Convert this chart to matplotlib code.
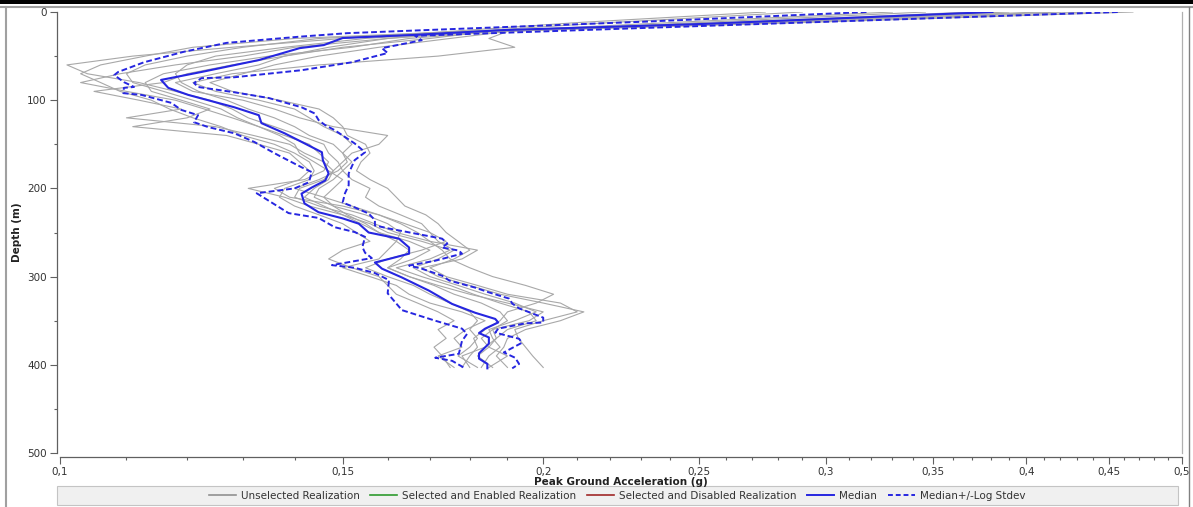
import matplotlib
matplotlib.use("Agg")
import matplotlib.pyplot as plt
from matplotlib.lines import Line2D
from matplotlib.patches import Rectangle
from matplotlib.ticker import FixedLocator, FuncFormatter, NullFormatter

# Median profile (PGA in g vs depth in m)
median_depth = [0, 13.6, 20.5, 26, 29.5, 37.5, 41, 54.5, 68, 77,
                86, 94, 108, 117, 126, 137.5, 145.5, 159, 168, 183,
                191, 199, 206, 217, 227, 234, 240, 250, 257, 267,
                274, 280, 284, 291, 301, 316, 331, 341, 348, 352,
                359, 364, 369, 376, 387, 393, 399, 404]
median_pga = [0.381, 0.251, 0.189, 0.166, 0.150, 0.146, 0.141, 0.133, 0.1225, 0.1156,
              0.1168, 0.1202, 0.1284, 0.133, 0.1335, 0.138, 0.1408, 0.1456, 0.1458, 0.147,
              0.1463, 0.1435, 0.1414, 0.142, 0.1449, 0.150, 0.1535, 0.1557, 0.1626, 0.165,
              0.165, 0.1603, 0.1571, 0.1587, 0.1633, 0.1698, 0.1755, 0.1814, 0.1867, 0.1875,
              0.184, 0.1824, 0.185, 0.185, 0.1824, 0.1824, 0.1846, 0.1846]

# Median - log stdev
lower_depth = [0, 11, 20.5, 24, 28, 35, 45, 57, 68, 71.5,
               79.5, 85, 86, 92, 94, 103, 111, 117, 125, 130.5,
               137.5, 147.5, 156.5, 162.5, 176, 181.5, 193, 200, 205.5, 228,
               233.5, 244, 249.5, 255, 266.5, 273, 279, 287, 290, 296,
               304, 319, 338, 350, 359, 365, 373, 387.5, 392, 395.5,
               404]
lower_pga = [0.318, 0.231, 0.169, 0.151, 0.141, 0.127, 0.1195, 0.1128, 0.1087, 0.1081,
             0.1096, 0.1112, 0.1096, 0.1095, 0.1124, 0.1173, 0.119, 0.1219, 0.1212, 0.1237,
             0.1284, 0.1322, 0.1349, 0.1368, 0.1414, 0.1435, 0.1429, 0.140, 0.1326, 0.1388,
             0.1449, 0.1483, 0.1526, 0.1549, 0.1543, 0.1549, 0.1564, 0.1477, 0.1526, 0.1571,
             0.1603, 0.160, 0.1633, 0.1713, 0.178, 0.1793, 0.178, 0.1772, 0.1713, 0.1755,
             0.1788]

# Median + log stdev
upper_depth = [0, 13.5, 27, 32, 41, 46.5, 57, 66, 74, 75,
               80.5, 85, 91, 97.5, 108, 115, 122.5, 128, 134, 149,
               159, 168, 183, 196.5, 205.5, 216, 221.5, 228.5, 236, 242,
               245.5, 257, 262.5, 267, 270.5, 274, 282, 287.5, 291, 299,
               304.5, 312.5, 318, 325, 330.5, 336, 346.5, 352, 353, 359,
               363.5, 370.5, 375, 386, 392, 399, 404]
upper_pga = [0.456, 0.274, 0.1664, 0.168, 0.1587, 0.160, 0.152, 0.1414, 0.1284, 0.1225,
             0.1212, 0.1219, 0.1284, 0.1349, 0.1414, 0.1441, 0.1449, 0.1462, 0.1483, 0.1526,
             0.1549, 0.1526, 0.1513, 0.1513, 0.1505, 0.150, 0.1526, 0.1557, 0.1571, 0.1571,
             0.1603, 0.173, 0.1743, 0.173, 0.1772, 0.178, 0.1713, 0.165, 0.168, 0.173,
             0.1748, 0.1814, 0.1851, 0.1905, 0.1913, 0.1932, 0.200, 0.200, 0.1949, 0.1875,
             0.1867, 0.1932, 0.194, 0.189, 0.1921, 0.1932, 0.1913]

# Individual realizations, all on the same depth list
real_depth = [0, 12, 22, 30, 40, 50, 60, 70, 80, 90,
              100, 110, 120, 130, 140, 150, 160, 170, 180, 190,
              200, 210, 220, 230, 240, 250, 260, 270, 280, 290,
              300, 310, 320, 330, 340, 350, 360, 370, 380, 390, 403]
real_1 = [0.275, 0.21, 0.175, 0.150, 0.128, 0.111, 0.101, 0.104, 0.112, 0.118,
          0.124, 0.128, 0.131, 0.136, 0.141, 0.146, 0.147, 0.149, 0.150, 0.148,
          0.145, 0.144, 0.148, 0.151, 0.155, 0.158, 0.165, 0.170, 0.166, 0.160,
          0.165, 0.171, 0.176, 0.183, 0.188, 0.190, 0.186, 0.187, 0.185, 0.182, 0.186]
real_2 = [0.29, 0.22, 0.18, 0.160, 0.140, 0.130, 0.118, 0.109, 0.103, 0.110,
          0.118, 0.123, 0.128, 0.133, 0.138, 0.143, 0.145, 0.147, 0.146, 0.142,
          0.131, 0.138, 0.143, 0.150, 0.156, 0.160, 0.168, 0.175, 0.170, 0.162,
          0.168, 0.175, 0.181, 0.188, 0.196, 0.198, 0.190, 0.187, 0.184, 0.178, 0.180]
real_3 = [0.33, 0.24, 0.185, 0.170, 0.150, 0.138, 0.128, 0.120, 0.116, 0.105,
          0.112, 0.119, 0.110, 0.125, 0.132, 0.139, 0.142, 0.146, 0.148, 0.146,
          0.141, 0.140, 0.145, 0.152, 0.157, 0.162, 0.170, 0.182, 0.178, 0.168,
          0.172, 0.180, 0.188, 0.200, 0.212, 0.205, 0.195, 0.190, 0.189, 0.187, 0.190]
real_4 = [0.346, 0.25, 0.19, 0.185, 0.192, 0.172, 0.145, 0.128, 0.121, 0.125,
          0.133, 0.140, 0.143, 0.146, 0.150, 0.152, 0.150, 0.151, 0.149, 0.145,
          0.140, 0.146, 0.152, 0.158, 0.164, 0.170, 0.174, 0.168, 0.160, 0.155,
          0.160, 0.166, 0.170, 0.175, 0.180, 0.182, 0.180, 0.182, 0.180, 0.177, 0.182]
real_5 = [0.37, 0.26, 0.18, 0.145, 0.130, 0.120, 0.113, 0.110, 0.111, 0.116,
          0.121, 0.126, 0.129, 0.133, 0.137, 0.140, 0.141, 0.144, 0.147, 0.150,
          0.148, 0.146, 0.148, 0.155, 0.160, 0.163, 0.162, 0.160, 0.158, 0.150,
          0.156, 0.162, 0.165, 0.170, 0.178, 0.184, 0.179, 0.176, 0.178, 0.172, 0.176]
real_6 = [0.39, 0.265, 0.185, 0.160, 0.147, 0.138, 0.133, 0.125, 0.118, 0.121,
          0.130, 0.136, 0.141, 0.148, 0.160, 0.158, 0.152, 0.150, 0.148, 0.147,
          0.144, 0.142, 0.146, 0.150, 0.154, 0.158, 0.162, 0.165, 0.163, 0.160,
          0.165, 0.172, 0.180, 0.190, 0.200, 0.196, 0.186, 0.183, 0.185, 0.190, 0.185]
real_7 = [0.408, 0.27, 0.19, 0.175, 0.158, 0.145, 0.136, 0.130, 0.124, 0.128,
          0.137, 0.145, 0.148, 0.150, 0.151, 0.155, 0.156, 0.154, 0.153, 0.156,
          0.160, 0.162, 0.164, 0.169, 0.172, 0.174, 0.177, 0.180, 0.176, 0.170,
          0.174, 0.182, 0.190, 0.205, 0.210, 0.200, 0.192, 0.193, 0.195, 0.197, 0.200]
real_8 = [0.42, 0.275, 0.178, 0.140, 0.121, 0.113, 0.106, 0.103, 0.106, 0.109,
          0.114, 0.117, 0.121, 0.126, 0.130, 0.136, 0.140, 0.143, 0.144, 0.143,
          0.138, 0.137, 0.140, 0.145, 0.150, 0.153, 0.156, 0.150, 0.147, 0.152,
          0.158, 0.160, 0.162, 0.167, 0.172, 0.176, 0.172, 0.174, 0.171, 0.173, 0.175]
real_9 = [0.437, 0.28, 0.182, 0.155, 0.138, 0.125, 0.120, 0.118, 0.119, 0.122,
          0.127, 0.131, 0.136, 0.140, 0.143, 0.148, 0.150, 0.152, 0.150, 0.152,
          0.156, 0.155, 0.158, 0.163, 0.168, 0.170, 0.172, 0.176, 0.172, 0.166,
          0.170, 0.177, 0.184, 0.192, 0.198, 0.192, 0.185, 0.186, 0.188, 0.185, 0.183]
real_10 = [0.466, 0.29, 0.188, 0.165, 0.152, 0.135, 0.124, 0.116, 0.113, 0.114,
           0.119, 0.124, 0.120, 0.111, 0.127, 0.133, 0.139, 0.141, 0.143, 0.141,
           0.136, 0.139, 0.150, 0.158, 0.163, 0.167, 0.170, 0.173, 0.175, 0.180,
           0.186, 0.195, 0.203, 0.198, 0.190, 0.188, 0.184, 0.181, 0.182, 0.180, 0.178]
realizations = [real_1, real_2, real_3, real_4, real_5,
                real_6, real_7, real_8, real_9, real_10]

x_major = [0.1, 0.15, 0.2, 0.25, 0.3, 0.35, 0.4, 0.45, 0.5]
x_minor = [0.11, 0.12, 0.13, 0.14, 0.16, 0.17, 0.18, 0.19, 0.21, 0.22, 0.23, 0.24,
           0.26, 0.27, 0.28, 0.29, 0.31, 0.32, 0.33, 0.34, 0.36, 0.37, 0.38, 0.39,
           0.41, 0.42, 0.43, 0.44, 0.46, 0.47, 0.48, 0.49]

legend_labels = ["Unselected Realization", "Selected and Enabled Realization",
                 "Selected and Disabled Realization", "Median", "Median+/-Log Stdev"]

W, H = 1193, 507
blue = "#2626e0"
gray = "#a8a8a8"
axis_col = "#606060"
fs = 7.5

fig = plt.figure(figsize=(W / 100, H / 100), dpi=100)
fig.patch.set_facecolor("white")

# plot area in pixels: x 60..1182, y 12..453
ax = fig.add_axes([60 / W, 1 - 453 / H, 1122 / W, 441 / H])

for r in realizations:
    ax.plot(r, real_depth, color=gray, lw=0.8, zorder=2)

ax.plot(lower_pga, lower_depth, color=blue, lw=1.4, dashes=(3, 1.5), zorder=3)
ax.plot(upper_pga, upper_depth, color=blue, lw=1.4, dashes=(3, 1.5), zorder=3)
ax.plot(median_pga, median_depth, color=blue, lw=1.5, zorder=4)

ax.set_xscale("log")
ax.set_xlim(0.1, 0.5)
ax.set_ylim(500, 0)
ax.xaxis.set_major_locator(FixedLocator(x_major))
ax.xaxis.set_minor_locator(FixedLocator(x_minor))
ax.xaxis.set_major_formatter(FuncFormatter(lambda v, p: ("%g" % v).replace(".", ",")))
ax.xaxis.set_minor_formatter(NullFormatter())
ax.yaxis.set_major_locator(FixedLocator([0, 100, 200, 300, 400, 500]))
ax.yaxis.set_minor_locator(FixedLocator([50, 150, 250, 350, 450]))

ax.tick_params(which="major", length=5, width=0.8, color=axis_col,
               labelsize=fs, labelcolor="#333333", pad=2)
ax.tick_params(which="minor", length=2.5, width=0.8, color=axis_col)

ax.spines["left"].set_position(("outward", 2.5))
ax.spines["bottom"].set_position(("outward", 3))
for s in ["left", "bottom"]:
    ax.spines[s].set_color(axis_col)
    ax.spines[s].set_linewidth(0.9)
ax.spines["top"].set_visible(False)
ax.spines["right"].set_color("#b0b0b0")
ax.spines["right"].set_linewidth(0.9)

fig.text(621 / W, 1 - 482 / H, "Peak Ground Acceleration (g)", ha="center", va="center",
         fontsize=fs, fontweight="bold", color="#222222")
fig.text(17 / W, 1 - 232 / H, "Depth (m)", ha="center", va="center", rotation=90,
         fontsize=fs, fontweight="bold", color="#222222")

# legend strip
fig.add_artist(Rectangle((57 / W, 1 - 505 / H), 1121 / W, 19 / H, transform=fig.transFigure,
                         facecolor="#f0f0f0", edgecolor="#c4c4c4", lw=0.8))
handles = [Line2D([], [], color="#909090", lw=1.2),
           Line2D([], [], color="#2e9a2e", lw=1.2),
           Line2D([], [], color="#a02828", lw=1.2),
           Line2D([], [], color=blue, lw=1.4),
           Line2D([], [], color=blue, lw=1.4, dashes=(2.5, 1.5))]
fig.legend(handles, legend_labels, loc="center", bbox_to_anchor=(617 / W, 1 - 496 / H),
           ncol=5, frameon=False, fontsize=fs, handlelength=2.6, handletextpad=0.5,
           columnspacing=1.0, labelcolor="#333333")

# window frame bits
fig.add_artist(Rectangle((0, 1 - 4 / H), 1, 4 / H, transform=fig.transFigure,
                         facecolor="black", edgecolor="none"))
fig.add_artist(Line2D([0, 1], [1 - 7 / H, 1 - 7 / H], transform=fig.transFigure,
                      color="#a0a0a0", lw=1.5))
fig.add_artist(Line2D([6 / W, 6 / W], [0, 1 - 7 / H], transform=fig.transFigure,
                      color="#a0a0a0", lw=1.5))
fig.add_artist(Line2D([1189 / W, 1189 / W], [0, 1 - 7 / H], transform=fig.transFigure,
                      color="#808080", lw=1.0))

fig.savefig("out.png", dpi=100)
